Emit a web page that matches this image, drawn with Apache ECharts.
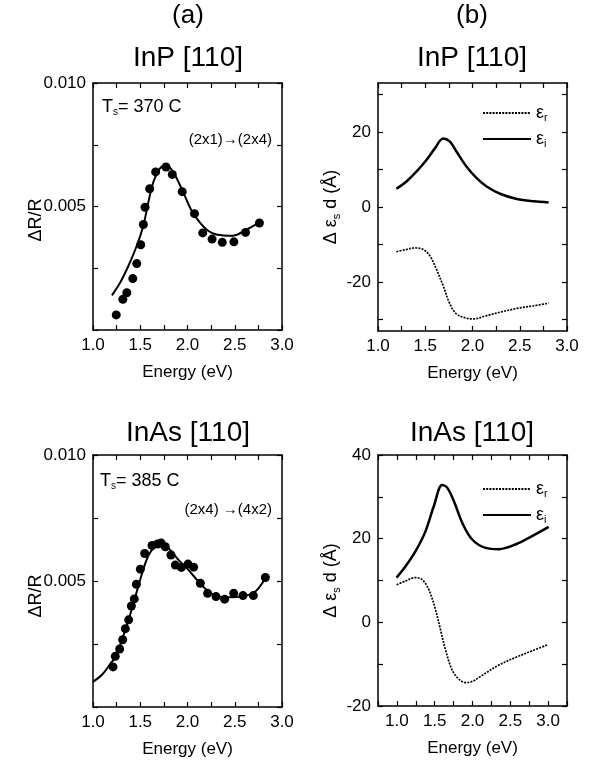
<!DOCTYPE html>
<html><head><meta charset="utf-8">
<script src="https://cdn.jsdelivr.net/npm/echarts@6/dist/echarts.min.js"></script>
<style>html,body{margin:0;padding:0;background:#fff}#c{width:597px;height:764px}</style>
</head><body><div id="c"></div><script>
// ---- Panel (a) InP [110]: measured dR/R points and fit ----
const inpEnergy = [1.246,1.316,1.358,1.421,1.463,1.505,1.533,1.551,1.600,1.663,1.772,1.839,1.944,2.074,2.161,2.260,2.368,2.491,2.614,2.761];
const inpDR = [0.00061,0.00124,0.00151,0.00208,0.00269,0.00345,0.00427,0.00497,0.00572,0.0064,0.0066,0.0063,0.0056,0.00471,0.00393,0.00368,0.00355,0.00357,0.00395,0.00433];
const inpFitEnergy = [1.2,1.288,1.375,1.463,1.533,1.586,1.639,1.709,1.772,1.849,1.954,2.042,2.13,2.218,2.305,2.481,2.621,2.796];
const inpFitDR = [0.0014,0.00192,0.0026,0.00341,0.00423,0.00518,0.00599,0.00654,0.00667,0.0064,0.00558,0.00484,0.00436,0.00402,0.00387,0.00382,0.00406,0.00443];
// ---- Panel (a) InAs [110] ----
const inasEnergy = [1.212,1.236,1.282,1.314,1.342,1.377,1.406,1.437,1.459,1.501,1.547,1.625,1.683,1.720,1.765,1.825,1.871,1.935,2.005,2.065,2.136,2.213,2.302,2.393,2.489,2.587,2.697,2.824];
const inasDR = [0.00159,0.00201,0.0023,0.00267,0.00311,0.00346,0.00401,0.00429,0.00487,0.00547,0.00609,0.00641,0.00647,0.00651,0.00636,0.00603,0.00563,0.00554,0.00567,0.00555,0.00491,0.00451,0.00438,0.00428,0.00451,0.00442,0.00442,0.00514];
const inasFitEnergy = [1.0,1.1,1.2,1.236,1.307,1.377,1.448,1.519,1.589,1.660,1.730,1.801,1.907,2.012,2.118,2.224,2.330,2.471,2.612,2.718,2.824];
const inasFitDR = [0.0010,0.0013,0.0018,0.00195,0.00267,0.00346,0.00438,0.0053,0.00603,0.00636,0.00642,0.00629,0.00583,0.00543,0.00497,0.00458,0.00438,0.00436,0.00441,0.00458,0.00511];
// ---- Panel (b) InP: eps_i (solid), eps_r (dotted) ----
const inpEiEnergy = [1.195,1.301,1.407,1.513,1.602,1.690,1.761,1.832,1.938,2.044,2.150,2.292,2.469,2.646,2.805];
const inpEi = [4.85,6.78,9.43,12.5,15.6,18.2,17.4,14.7,10.7,7.67,5.46,3.52,2.11,1.50,1.23];
const inpErEnergy = [1.195,1.301,1.389,1.478,1.549,1.619,1.690,1.761,1.832,1.938,2.009,2.150,2.292,2.469,2.646,2.805];
const inpEr = [-11.9,-11.3,-10.9,-11.3,-13.0,-16.6,-21.0,-25.8,-28.5,-29.6,-29.8,-28.9,-28.0,-27.0,-26.3,-25.6];
// ---- Panel (b) InAs ----
const inasEiEnergy = [0.996,1.115,1.247,1.379,1.489,1.599,1.665,1.753,1.864,1.996,2.172,2.348,2.568,2.788,3.008];
const inasEi = [10.7,13.4,17.0,21.8,27.8,32.8,32.2,29.0,23.8,19.8,17.8,17.5,18.6,20.6,22.8];
const inasErEnergy = [0.996,1.115,1.247,1.335,1.423,1.511,1.577,1.643,1.731,1.82,1.91,2.0,2.1,2.35,2.57,2.79,2.99];
const inasEr = [9.0,9.9,10.7,10.2,7.8,3.0,-1.8,-6.6,-11.4,-13.6,-14.4,-14.1,-13.0,-10.2,-8.4,-6.8,-5.4];
// ---- tick labels ----
const energyLabels = [1.0,1.5,2.0,2.5,3.0];
const drLabels = [0.005,0.010];
const inpEpsTicks = [-30,-20,-10,0,10,20,30];
const inpEpsLabels = [-20,0,20];
const inasEpsLabels = [-20,0,20,40];

const FONT = '"Liberation Sans", Arial, Helvetica, sans-serif';
const pair = (xs, ys) => xs.map((x, i) => [x, ys[i]]);
const near = (v, arr) => arr.some(a => Math.abs(a - v) < 1e-7);

const line = {show:true, onZero:false, lineStyle:{color:'#000', width:1.5}};
function tick(extra){ return Object.assign({show:true, inside:true, length:5, lineStyle:{color:'#000', width:1.2}}, extra||{}); }
function xAxes(grid, min, max){
  const lbl = {show:true, color:'#000', fontSize:17, fontFamily:FONT, margin:7,
    formatter: v => near(v, energyLabels) ? v.toFixed(1) : ''};
  const base = {type:'value', gridIndex:grid, min:min, max:max, interval:0.25,
    axisLine:line, axisTick:tick(), splitLine:{show:false}};
  return [
    Object.assign({}, base, {position:'bottom', axisLabel:lbl,
      name:'Energy (eV)', nameLocation:'middle', nameGap:34,
      nameTextStyle:{color:'#000', fontSize:17, fontFamily:FONT}}),
    Object.assign({}, base, {position:'top', axisLabel:{show:false}})
  ];
}
function yAxesA(grid){
  const base = {type:'value', gridIndex:grid, min:0, max:0.01, interval:0.0025,
    axisLine:line, axisTick:tick(), splitLine:{show:false}};
  return [
    Object.assign({}, base, {position:'left',
      axisLabel:{show:true, color:'#000', fontSize:17, fontFamily:FONT, margin:7,
        formatter: v => near(v, drLabels) ? v.toFixed(3) : ''}}),
    Object.assign({}, base, {position:'right', axisLabel:{show:false}})
  ];
}
const epsName = '{a|Δ ε}{s|s}{a| d (Å)}';
const epsRich = {a:{fontSize:18, fontFamily:FONT, color:'#000', lineHeight:22},
                 s:{fontSize:11, fontFamily:FONT, color:'#000', lineHeight:12, padding:[10,0,0,0], verticalAlign:'bottom'}};
function yAxesB(grid, min, max, interval, tickVals, labelVals){
  const base = {type:'value', gridIndex:grid, min:min, max:max, splitLine:{show:false}, axisLine:line};
  if (interval) base.interval = interval;
  const tk = tickVals ? tick({customValues:tickVals}) : tick();
  const lbl = {show:true, color:'#000', fontSize:17, fontFamily:FONT, margin:7,
    formatter: v => near(v, labelVals) ? String(v) : ''};
  if (tickVals) lbl.customValues = labelVals;
  return [
    Object.assign({}, base, {position:'left', axisTick:tk, axisLabel:lbl,
      name:epsName, nameLocation:'middle', nameGap:22,
      nameTextStyle:{rich:epsRich}}),
    Object.assign({}, base, {position:'right', axisTick:tk, axisLabel:{show:false}})
  ];
}

const grids = [
  {left:93, top:83, width:189, height:247},
  {left:378, top:83, width:189, height:248},
  {left:93, top:455, width:189, height:252},
  {left:378, top:455, width:189, height:251}
];
const xAxis = [].concat(xAxes(0,1,3), xAxes(1,1,3), xAxes(2,1,3), xAxes(3,0.75,3.25));
const yAxis = [].concat(yAxesA(0), yAxesB(1,-33,33,null,inpEpsTicks,inpEpsLabels), yAxesA(2), yAxesB(3,-20,40,10,null,inasEpsLabels));

const scatter = (xi, data) => ({type:'scatter', xAxisIndex:xi, yAxisIndex:xi, data:data, symbol:'circle', symbolSize:9, itemStyle:{color:'#000', opacity:1}, z:3});
const fit = (xi, data, name, w, dotted) => ({type:'line', name:name, xAxisIndex:xi, yAxisIndex:xi, data:data, smooth:0.35, symbol:'none', showSymbol:false,
  lineStyle:{color:'#000', width:w, type: dotted ? [2,1.2] : 'solid'}, itemStyle:{color:'#000'}});

const series = [
  scatter(0, pair(inpEnergy, inpDR)), fit(0, pair(inpFitEnergy, inpFitDR), 'fitInP', 2),
  fit(2, pair(inpErEnergy, inpEr), 'er', 1.7, true), fit(2, pair(inpEiEnergy, inpEi), 'ei', 2.5),
  scatter(4, pair(inasEnergy, inasDR)), fit(4, pair(inasFitEnergy, inasFitDR), 'fitInAs', 2),
  fit(6, pair(inasErEnergy, inasEr), 'er', 1.7, true), fit(6, pair(inasEiEnergy, inasEi), 'ei', 2.5)
];

const legRich = {e:{fontSize:18, fontFamily:FONT, color:'#000', lineHeight:20},
                 s:{fontSize:11, fontFamily:FONT, color:'#000', lineHeight:10, padding:[10,0,0,0], verticalAlign:'bottom'}};
const legend = top => ({data:['er','ei'], orient:'vertical', left:477, top:top, itemWidth:48, itemHeight:12, itemGap:5,
  selectedMode:false, itemStyle:{color:'rgba(0,0,0,0)', borderWidth:0, opacity:0},
  formatter: n => n === 'er' ? '{e|ε}{s|r}' : '{e|ε}{s|i}', textStyle:{rich:legRich}});

const txt = (x, y, text, size, align) => ({type:'text', x:x, y:y, style:{text:text, fill:'#000', font:size+'px '+FONT, align:align||'center', verticalAlign:'middle'}});
const rtxt = (x, y, text) => ({type:'text', x:x, y:y, rotation:Math.PI/2, style:{text:text, fill:'#000', font:'18px '+FONT, align:'center', verticalAlign:'middle'}});
const tsText = (x, y, temp) => ({type:'text', x:x, y:y, style:{text:'{a|T}{s|s}{a|= '+temp+' C}', align:'left', verticalAlign:'middle',
  rich:{a:{fontSize:18, fontFamily:FONT, fill:'#000', lineHeight:20}, s:{fontSize:10, fontFamily:FONT, fill:'#000', lineHeight:10, padding:[10,0,0,0], verticalAlign:'bottom'}}}});

const option = {
  animation:false, backgroundColor:'#fff',
  grid:grids, xAxis:xAxis, yAxis:yAxis, series:series,
  legend:[legend(97), legend(473)],
  graphic:[
    txt(188, 16, '(a)', 26), txt(472, 16, '(b)', 26),
    txt(188, 58, 'InP [110]', 28), txt(472, 58, 'InP [110]', 28),
    txt(188, 433, 'InAs [110]', 28), txt(472, 433, 'InAs [110]', 28),
    rtxt(36, 220, 'ΔR/R'), rtxt(36, 596, 'ΔR/R'),
    tsText(102, 107, '370'), tsText(100, 481, '385'),
    txt(272, 140, '(2x1)→(2x4)', 15, 'right'), txt(272, 510, '(2x4) →(4x2)', 15, 'right')
  ]
};
const chart = echarts.init(document.getElementById('c'), null, {renderer:'canvas'});
chart.setOption(option);
</script></body></html>
